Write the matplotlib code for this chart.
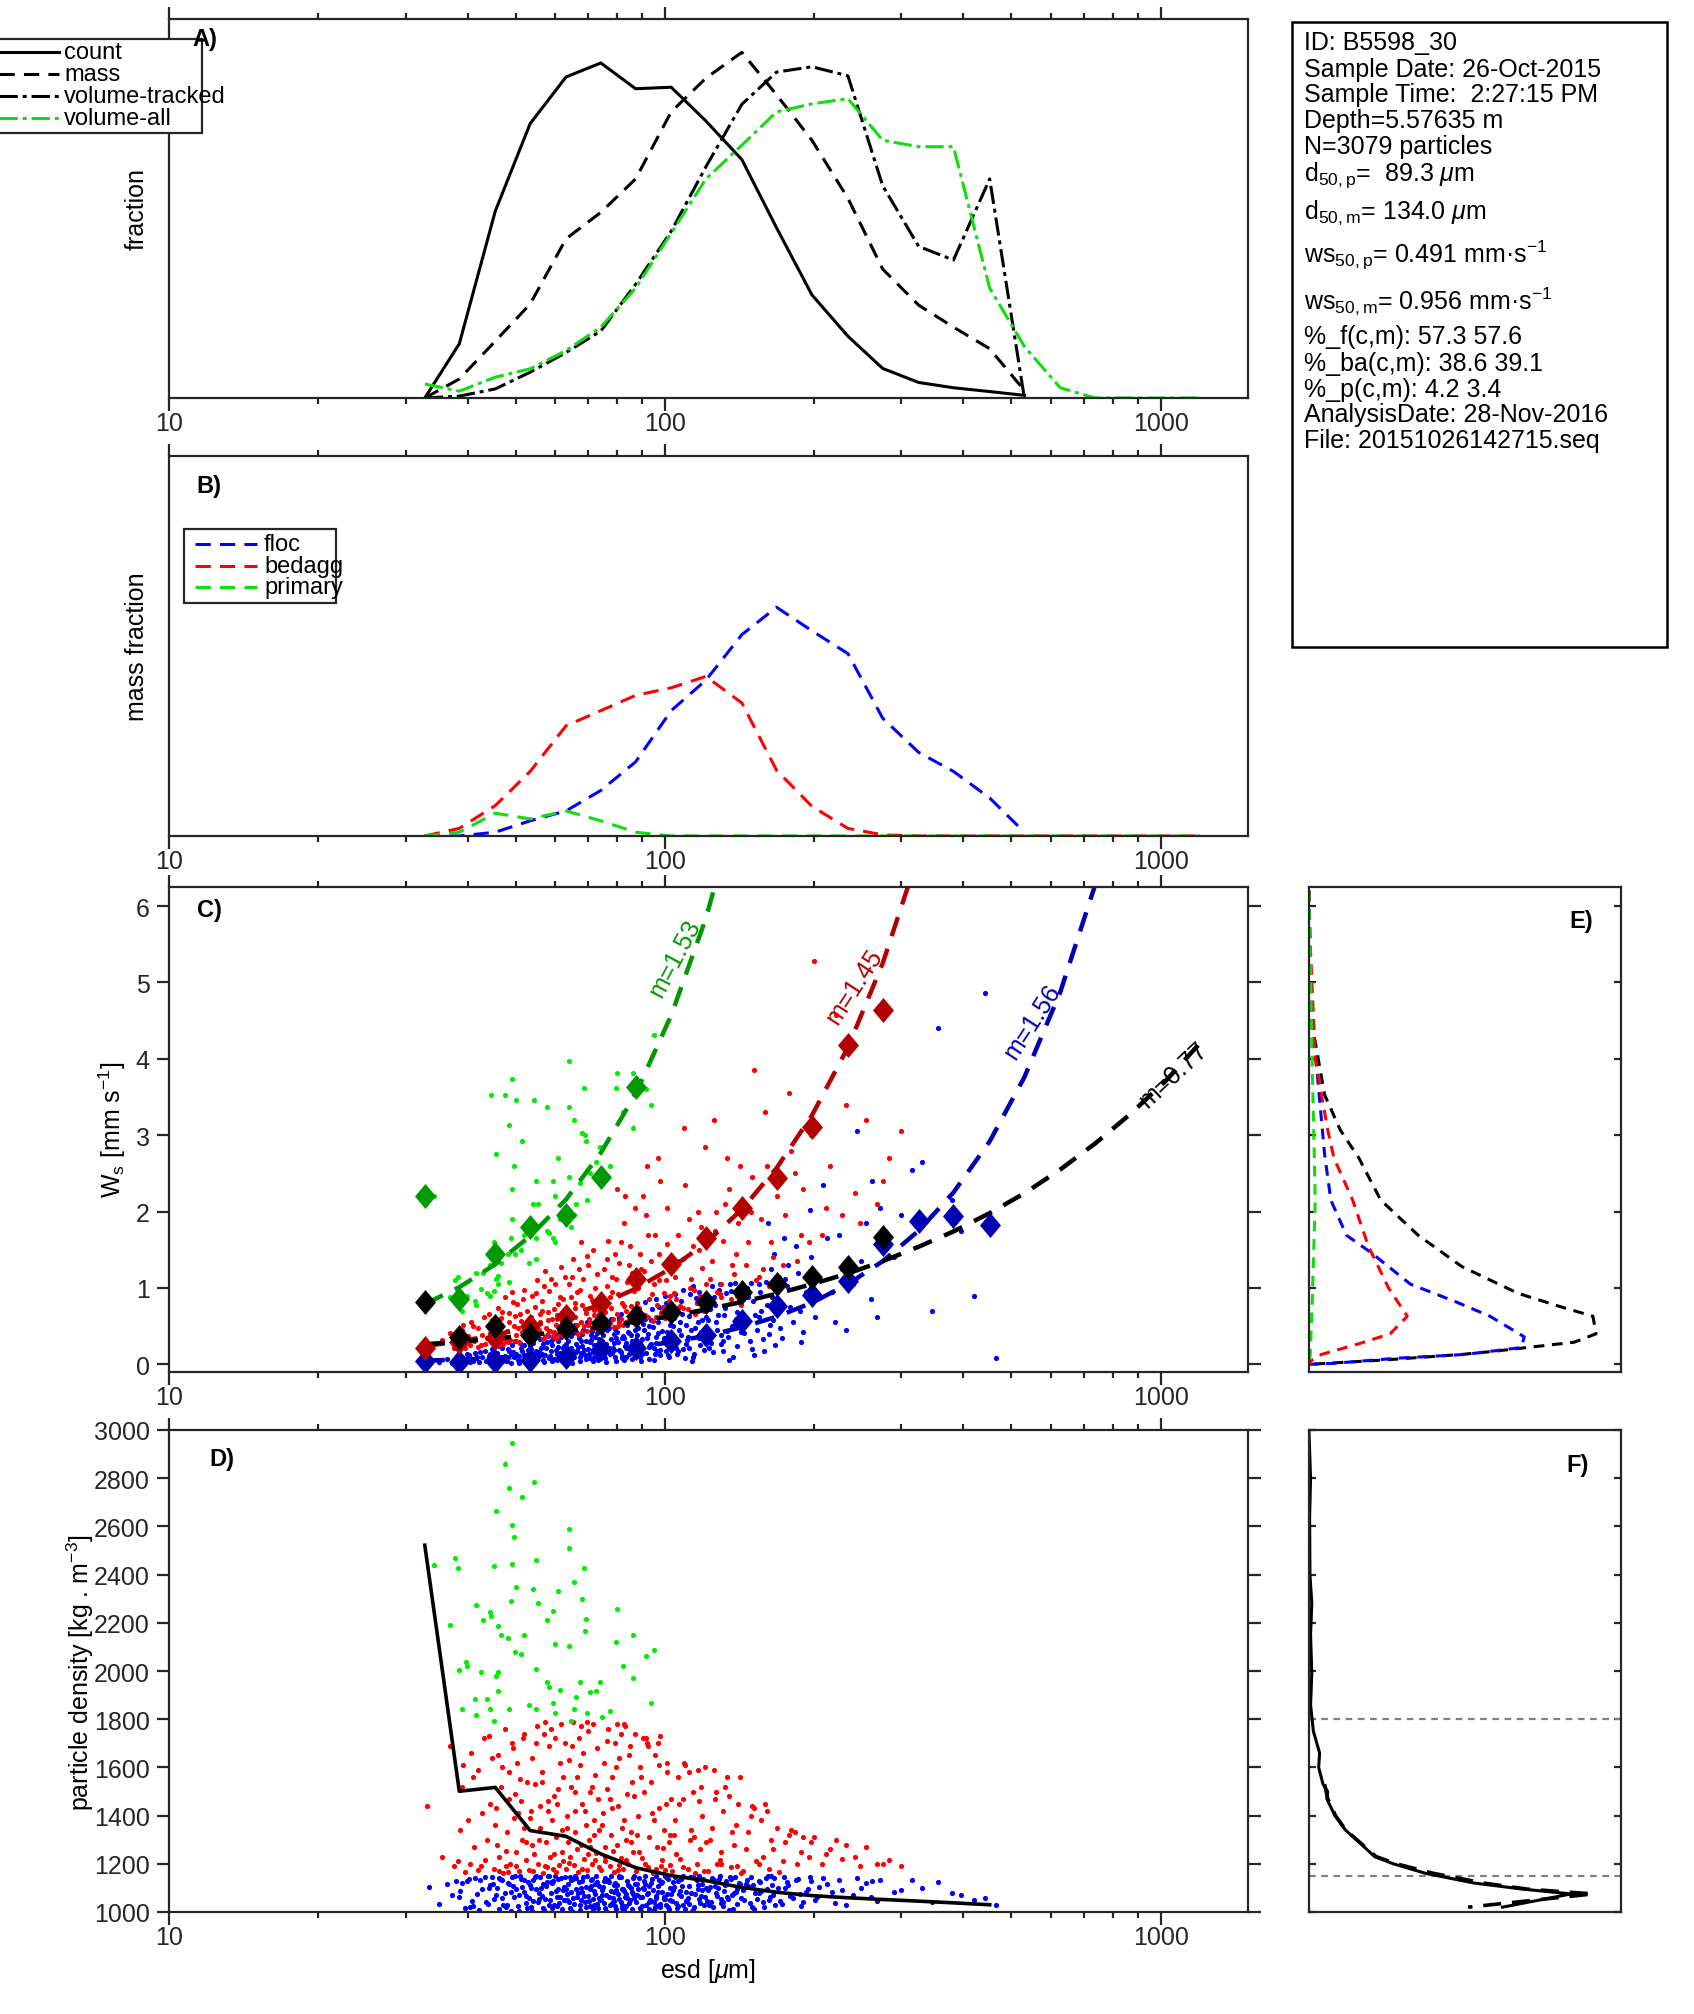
import matplotlib
matplotlib.use('Agg')
import matplotlib.pyplot as plt
from matplotlib.ticker import NullFormatter
from matplotlib.patches import Rectangle
from matplotlib.lines import Line2D

plt.rcParams['font.family'] = ['Liberation Sans', 'DejaVu Sans']
plt.rcParams['mathtext.fontset'] = 'custom'
plt.rcParams['mathtext.rm'] = 'Liberation Sans'
plt.rcParams['mathtext.it'] = 'Liberation Sans:italic'
plt.rcParams['mathtext.bf'] = 'Liberation Sans:bold'

# ---------------- data ----------------
# size-bin centres [um]
esd_bins = [32.8, 38.5, 45.5, 53.5, 63.2, 74.3, 87.3, 103, 121, 143, 168, 198,
            234, 275, 325, 382, 452, 531, 627, 737, 866, 1023, 1202]

# A) size distributions (relative fraction)
count_frac = [0, 0.143, 0.493, 0.724, 0.847, 0.884, 0.816, 0.820, 0.731, 0.629,
              0.449, 0.272, 0.163, 0.078, 0.041, 0.027, 0.017, 0.007]
mass_frac = [0, 0.05, 0.15, 0.248, 0.42, 0.49, 0.578, 0.755, 0.844, 0.912,
             0.80, 0.68, 0.527, 0.34, 0.245, 0.187, 0.13, 0.02]
voltrack_frac = [0, 0.005, 0.024, 0.068, 0.12, 0.177, 0.30, 0.44, 0.61, 0.775,
                 0.86, 0.874, 0.85, 0.56, 0.40, 0.364, 0.578, 0]
volall_frac = [0.037, 0.018, 0.055, 0.077, 0.125, 0.187, 0.29, 0.435, 0.578, 0.667,
               0.755, 0.776, 0.79, 0.68, 0.663, 0.663, 0.29, 0.136, 0.027, 0, 0, 0, 0]
legend_a = ['count', 'mass', 'volume-tracked', 'volume-all']

# B) mass fraction per class
floc_mass = [0, 0, 0.01, 0.04, 0.066, 0.12, 0.195, 0.33, 0.41, 0.53, 0.602, 0.54,
             0.48, 0.31, 0.22, 0.17, 0.10, 0.01]
bedagg_mass = [0, 0.02, 0.08, 0.17, 0.29, 0.33, 0.37, 0.39, 0.42, 0.35, 0.173, 0.078,
               0.02, 0.003, 0, 0, 0, 0, 0, 0, 0, 0, 0]
primary_mass = [0, 0.01, 0.06, 0.045, 0.066, 0.04, 0.01, 0, 0, 0, 0, 0, 0, 0, 0, 0,
                0, 0, 0, 0, 0, 0, 0]
legend_b = ['floc', 'bedagg', 'primary']

# C) bin-mean settling velocity [mm/s]
ws_mean_primary = [2.2, 0.85, 1.45, 1.8, 1.95, 2.45, 3.63]
ws_mean_bedagg = [0.22, 0.29, 0.34, 0.5, 0.63, 0.8, 1.12, 1.32, 1.66, 2.05, 2.44, 3.11, 4.18, 4.64]
ws_mean_all = [0.82, 0.36, 0.5, 0.38, 0.47, 0.54, 0.63, 0.69, 0.82, 0.95, 1.05, 1.15, 1.28, 1.67]
ws_mean_floc = [0.04, 0.03, 0.04, 0.06, 0.1, 0.2, 0.22, 0.31, 0.38, 0.57, 0.77, 0.91, 1.09,
                1.58, 1.88, 1.94, 1.83]

# C) power-law fit curves read at the bin centres
fit_primary = [0.79, 1.01, 1.31, 1.68, 2.16, 2.77, 3.54, 4.57, 5.84, 7.54]
fit_bedagg = [0.24, 0.30, 0.386, 0.489, 0.622, 0.787, 0.99, 1.26, 1.59, 2.03, 2.57,
              3.26, 4.15, 5.25, 6.68]
fit_floc = [0.049, 0.063, 0.081, 0.105, 0.136, 0.175, 0.225, 0.291, 0.374, 0.485,
            0.624, 0.806, 1.05, 1.35, 1.75, 2.25, 2.92, 3.76, 4.87, 6.27]
fit_all = [0.263, 0.297, 0.338, 0.383, 0.435, 0.493, 0.558, 0.634, 0.718, 0.817, 0.924,
           1.05, 1.19, 1.35, 1.54, 1.74, 1.98, 2.24, 2.55, 2.89, 3.27, 3.71, 4.21]
fit_labels = ['m=1.53', 'm=1.45', 'm=1.56', 'm=0.77']

# D) bin-mean particle density [kg/m3]
rho_mean_all = [2522, 1501, 1517, 1338, 1314, 1241, 1184, 1151, 1130, 1102, 1082, 1068,
                1059, 1052, 1045, 1038, 1030]

# particles: (esd [um], ws [mm/s], density [kg/m3])
floc_particles = [
    (33.5, 0.05, 1105), (35.1, 0.03, 1032), (36.4, 0.07, 1118), (37.2, 0.02, 1071), (37.9, 0.06, 1129),
    (38.4, 0.04, 1062), (38.9, 0.09, 1121), (39.6, 0.02, 1015), (40.2, 0.12, 1138), (40.8, 0.06, 1047),
    (41.5, 0.15, 1143), (42.1, 0.03, 1008), (42.8, 0.10, 1096), (43.3, 0.18, 1147), (43.9, 0.07, 1035),
    (44.5, 0.13, 1112), (41.0, 0.05, 1024),
    (38.7, 0.08, 1089), (39.9, 0.14, 1130), (40.5, 0.03, 1019), (41.8, 0.10, 1076), (42.4, 0.16, 1132),
    (43.6, 0.04, 1041), (44.2, 0.11, 1099), (44.9, 0.20, 1145),
    (45.3, 0.08, 1052), (45.9, 0.15, 1101), (46.4, 0.03, 1012), (46.9, 0.21, 1134), (47.5, 0.11, 1078),
    (48.0, 0.05, 1028), (48.6, 0.18, 1117), (49.1, 0.26, 1146), (49.7, 0.09, 1061), (50.2, 0.14, 1094),
    (50.8, 0.02, 1006), (51.3, 0.22, 1139), (51.9, 0.12, 1083), (52.4, 0.07, 1039), (52.9, 0.19, 1124),
    (46.2, 0.24, 1142), (47.8, 0.04, 1019), (49.4, 0.16, 1108), (51.0, 0.28, 1149), (52.6, 0.10, 1067),
    (45.6, 0.12, 1072), (46.6, 0.26, 1137), (47.2, 0.06, 1031), (48.3, 0.20, 1120), (48.9, 0.13, 1085),
    (49.9, 0.30, 1148), (50.5, 0.06, 1026), (51.6, 0.17, 1104), (52.1, 0.25, 1133), (52.8, 0.04, 1015),
    (45.1, 0.19, 1118), (47.0, 0.09, 1057), (49.0, 0.02, 1003), (50.9, 0.11, 1069),
    (53.3, 0.12, 1058), (53.8, 0.05, 1022), (54.3, 0.28, 1131), (54.9, 0.18, 1094), (55.4, 0.09, 1041),
    (55.9, 0.33, 1144), (56.5, 0.14, 1066), (57.0, 0.03, 1009), (57.6, 0.22, 1108), (58.1, 0.37, 1148),
    (58.7, 0.11, 1049), (59.2, 0.26, 1121), (59.8, 0.07, 1027), (60.3, 0.19, 1087), (60.9, 0.31, 1137),
    (61.5, 0.15, 1063), (62.1, 0.04, 1012), (62.7, 0.24, 1103), (53.6, 0.20, 1099), (54.6, 0.35, 1146),
    (55.7, 0.13, 1055), (56.8, 0.06, 1018), (57.9, 0.29, 1126), (59.0, 0.17, 1078), (60.1, 0.40, 1150),
    (61.2, 0.10, 1038), (62.3, 0.21, 1092), (58.4, 0.08, 1031),
    (53.5, 0.24, 1112), (54.1, 0.09, 1046), (55.1, 0.38, 1149), (55.8, 0.16, 1079), (56.7, 0.27, 1118),
    (57.3, 0.12, 1056), (58.3, 0.44, 1150), (59.1, 0.05, 1016), (59.6, 0.33, 1130), (60.6, 0.14, 1061),
    (61.0, 0.23, 1097), (61.8, 0.36, 1141), (62.5, 0.12, 1050), (54.0, 0.02, 1004), (56.2, 0.21, 1100),
    (58.9, 0.30, 1124), (60.7, 0.06, 1024), (62.9, 0.42, 1147),
    (63.4, 0.14, 1051), (63.8, 0.31, 1115), (64.3, 0.06, 1016), (64.7, 0.22, 1083), (65.2, 0.41, 1138),
    (65.6, 0.10, 1034), (66.1, 0.27, 1097), (66.6, 0.18, 1062), (67.0, 0.35, 1124), (67.5, 0.04, 1008),
    (68.0, 0.24, 1081), (68.5, 0.45, 1146), (69.0, 0.12, 1040), (69.5, 0.30, 1104), (70.0, 0.20, 1068),
    (70.5, 0.08, 1025), (71.0, 0.38, 1131), (71.5, 0.16, 1052), (72.0, 0.26, 1086), (72.6, 0.48, 1149),
    (73.1, 0.11, 1035), (73.7, 0.33, 1108), (63.6, 0.21, 1076), (64.9, 0.02, 1004), (66.3, 0.43, 1141),
    (67.7, 0.15, 1049), (69.2, 0.07, 1019), (70.7, 0.29, 1094), (72.2, 0.36, 1117), (73.5, 0.19, 1058),
    (65.9, 0.47, 1150), (71.8, 0.09, 1027),
    (63.3, 0.27, 1095), (64.1, 0.12, 1043), (64.6, 0.37, 1131), (65.4, 0.17, 1060), (66.0, 0.52, 1147),
    (66.9, 0.23, 1079), (67.3, 0.09, 1030), (68.2, 0.40, 1128), (68.8, 0.19, 1067), (69.7, 0.55, 1150),
    (70.3, 0.13, 1045), (70.9, 0.32, 1107), (71.7, 0.05, 1012), (72.4, 0.22, 1073), (73.0, 0.41, 1126),
    (73.9, 0.14, 1048), (64.4, 0.46, 1144), (67.9, 0.31, 1101), (71.3, 0.44, 1135), (73.3, 0.06, 1017),
    (74.5, 0.18, 1048), (75.0, 0.39, 1104), (75.6, 0.08, 1018), (76.2, 0.27, 1072), (76.8, 0.52, 1133),
    (77.4, 0.13, 1031), (78.0, 0.33, 1087), (78.6, 0.22, 1057), (79.2, 0.46, 1119), (79.8, 0.05, 1011),
    (80.4, 0.29, 1076), (81.0, 0.58, 1146), (81.7, 0.16, 1040), (82.3, 0.37, 1096), (83.0, 0.24, 1063),
    (83.6, 0.10, 1024), (84.3, 0.43, 1112), (85.0, 0.20, 1051), (85.7, 0.31, 1081), (86.4, 0.55, 1141),
    (74.8, 0.26, 1069), (76.0, 0.03, 1005), (77.2, 0.48, 1125), (78.4, 0.15, 1038), (79.6, 0.35, 1092),
    (80.9, 0.62, 1149), (82.1, 0.11, 1027), (83.4, 0.28, 1074), (84.7, 0.41, 1106), (86.0, 0.07, 1014),
    (75.3, 0.50, 1130), (78.9, 0.19, 1046), (82.6, 0.34, 1088), (86.8, 0.23, 1058),
    (74.6, 0.31, 1093), (75.4, 0.12, 1036), (76.5, 0.45, 1127), (77.0, 0.22, 1064), (77.8, 0.60, 1150),
    (78.8, 0.28, 1081), (79.4, 0.10, 1023), (80.1, 0.42, 1113), (80.8, 0.19, 1053), (81.4, 0.66, 1147),
    (82.0, 0.34, 1094), (82.8, 0.06, 1010), (83.7, 0.51, 1129), (84.5, 0.14, 1039), (85.3, 0.38, 1100),
    (86.1, 0.27, 1073), (86.6, 0.70, 1149), (75.9, 0.57, 1140), (79.0, 0.40, 1110), (81.9, 0.08, 1016),
    (84.0, 0.21, 1059), (86.9, 0.45, 1117),
    (87.6, 0.21, 1043), (88.4, 0.47, 1097), (89.2, 0.09, 1015), (90.0, 0.33, 1064), (90.8, 0.64, 1127),
    (91.6, 0.15, 1027), (92.5, 0.40, 1079), (93.3, 0.26, 1049), (94.2, 0.72, 1138), (95.1, 0.06, 1009),
    (96.0, 0.36, 1068), (96.9, 0.55, 1109), (97.8, 0.19, 1033), (98.7, 0.44, 1085), (99.7, 0.29, 1054),
    (100.6, 0.80, 1146), (101.6, 0.12, 1020), (102.6, 0.51, 1098), (88.0, 0.38, 1071), (89.6, 0.04, 1005),
    (91.2, 0.60, 1115), (92.9, 0.23, 1041), (94.6, 0.49, 1092), (96.4, 0.17, 1026), (98.2, 0.67, 1121),
    (100.1, 0.31, 1052), (102.0, 0.10, 1013), (90.4, 0.53, 1101), (93.8, 0.27, 1046), (97.3, 0.75, 1133),
    (101.1, 0.42, 1075), (95.5, 0.14, 1022),
    (87.9, 0.56, 1118), (88.9, 0.28, 1061), (89.9, 0.13, 1024), (90.6, 0.45, 1096), (91.4, 0.81, 1148),
    (92.2, 0.35, 1076), (93.0, 0.07, 1011), (93.9, 0.58, 1120), (94.9, 0.22, 1043), (95.8, 0.86, 1150),
    (96.7, 0.41, 1082), (97.6, 0.12, 1019), (98.5, 0.62, 1125), (99.4, 0.34, 1063), (100.4, 0.18, 1031),
    (101.4, 0.70, 1135), (102.3, 0.26, 1050), (88.6, 0.69, 1140), (92.7, 0.50, 1106), (96.1, 0.28, 1057),
    (99.9, 0.90, 1150), (102.9, 0.38, 1073),
    (103.4, 0.28, 1046), (104.5, 0.61, 1103), (105.6, 0.13, 1018), (106.7, 0.45, 1075), (107.9, 0.83, 1136),
    (109.0, 0.20, 1029), (110.2, 0.52, 1084), (111.4, 0.36, 1058), (112.6, 0.92, 1144), (113.8, 0.09, 1010),
    (115.1, 0.48, 1073), (116.4, 0.70, 1112), (117.7, 0.25, 1037), (119.0, 0.58, 1091), (120.3, 0.40, 1062),
    (104.0, 0.77, 1125), (106.2, 0.17, 1024), (108.5, 0.66, 1106), (110.8, 0.32, 1049), (113.2, 0.05, 1006),
    (115.7, 0.87, 1139), (118.3, 0.43, 1066), (120.8, 0.62, 1098), (107.3, 0.55, 1088), (112.0, 0.22, 1033),
    (117.0, 0.95, 1148),
    (103.9, 0.50, 1092), (105.1, 0.21, 1036), (106.4, 0.74, 1128), (107.6, 0.38, 1068), (108.9, 0.98, 1150),
    (110.5, 0.27, 1045), (111.7, 0.63, 1108), (112.9, 0.45, 1080), (114.4, 0.14, 1021), (115.9, 0.80, 1131),
    (117.3, 0.34, 1055), (118.8, 0.71, 1118), (120.1, 0.19, 1029), (105.0, 0.92, 1145), (109.6, 0.08, 1012),
    (114.0, 1.02, 1147), (116.9, 0.56, 1094), (119.6, 0.88, 1137),
    (121.8, 0.34, 1047), (123.4, 0.72, 1102), (125.0, 0.16, 1020), (126.6, 0.55, 1077), (128.3, 0.98, 1135),
    (130.0, 0.27, 1036), (131.7, 0.64, 1089), (133.5, 0.44, 1061), (135.3, 1.05, 1146), (137.1, 0.10, 1012),
    (139.0, 0.59, 1081), (140.9, 0.85, 1120), (122.6, 0.22, 1028), (126.0, 0.78, 1108), (129.5, 0.38, 1054),
    (133.0, 0.93, 1129), (136.5, 0.50, 1070), (140.0, 0.68, 1095), (124.2, 1.02, 1142), (131.0, 0.30, 1042),
    (122.3, 0.58, 1093), (123.9, 0.28, 1041), (125.6, 0.88, 1133), (127.3, 0.45, 1067), (129.0, 1.05, 1149),
    (130.8, 0.18, 1026), (132.4, 0.74, 1112), (134.2, 0.36, 1052), (136.0, 0.96, 1138), (137.8, 0.52, 1078),
    (139.7, 0.24, 1034), (141.6, 0.80, 1116), (127.9, 0.64, 1100), (134.9, 0.06, 1008), (138.4, 1.07, 1146),
    (142.3, 0.42, 1060),
    (144.5, 0.41, 1051), (147.0, 0.88, 1106), (149.6, 0.20, 1022), (152.2, 0.65, 1079), (154.9, 1.05, 1128),
    (157.6, 0.33, 1040), (160.4, 0.78, 1094), (163.2, 0.52, 1064), (166.1, 1.45, 1142), (145.8, 0.97, 1118),
    (151.0, 0.12, 1013), (156.2, 0.70, 1087), (161.8, 1.85, 1149), (165.0, 0.58, 1071),
    (143.8, 0.62, 1090), (146.2, 1.00, 1134), (148.4, 0.30, 1038), (150.4, 0.83, 1113), (153.5, 0.45, 1056),
    (155.6, 0.95, 1126), (158.6, 0.18, 1021), (159.9, 1.08, 1140), (162.5, 0.40, 1049), (164.3, 0.88, 1110),
    (167.0, 0.26, 1031), (148.9, 1.06, 1145), (155.0, 0.62, 1077), (163.9, 1.25, 1148),
    (170.5, 0.48, 1046), (174.8, 1.12, 1098), (179.1, 0.75, 1068), (183.6, 1.55, 1131), (188.2, 0.29, 1024),
    (192.9, 0.95, 1085), (196.5, 2.02, 1147), (177.0, 1.30, 1112),
    (169.5, 0.80, 1099), (172.5, 0.35, 1035), (176.0, 1.02, 1125), (181.0, 0.55, 1060), (185.5, 1.20, 1136),
    (190.0, 0.42, 1043), (194.5, 0.90, 1097), (173.8, 1.65, 1146), (187.0, 0.70, 1075), (197.5, 1.40, 1128),
    (203, 0.85, 1063), (212, 1.65, 1117), (220, 0.55, 1038), (228, 1.25, 1091), (208, 2.35, 1143),
    (200.5, 0.62, 1051), (205, 1.10, 1102), (217, 0.95, 1083), (224, 1.70, 1132), (232, 0.45, 1030),
    (240, 1.05, 1072), (255, 1.85, 1120), (268, 0.62, 1044), (244, 3.05, 1140), (262, 2.40, 1128),
    (249, 1.35, 1099), (260, 0.85, 1062), (272, 2.05, 1134),
    (290, 1.40, 1085), (315, 2.55, 1131), (300, 1.95, 1092), (330, 2.65, 1100),
    (345, 0.70, 1040), (355, 4.40, 1125), (380, 2.15, 1080), (395, 1.75, 1070), (420, 0.90, 1050),
    (443, 4.86, 1060), (465, 0.08, 1030),
]

bedagg_particles = [
    (33.2, 0.24, 1440), (35.5, 0.32, 1230), (36.8, 0.41, 1690), (37.6, 0.22, 1190),
    (38.3, 0.28, 1210), (38.9, 0.45, 1520), (39.5, 0.21, 1165), (40.1, 0.37, 1380), (40.7, 0.55, 1660),
    (41.3, 0.30, 1270), (41.9, 0.48, 1590), (42.5, 0.26, 1190), (43.1, 0.62, 1720), (43.7, 0.34, 1300),
    (44.3, 0.41, 1450), (39.2, 0.52, 1610), (42.0, 0.23, 1175), (44.8, 0.58, 1640),
    (38.6, 0.35, 1340), (40.4, 0.25, 1200), (41.1, 0.50, 1560), (42.8, 0.39, 1410), (43.4, 0.27, 1215),
    (44.1, 0.66, 1730),
    (45.2, 0.30, 1180), (45.6, 0.52, 1430), (46.0, 0.74, 1650), (46.4, 0.35, 1230), (46.8, 0.61, 1520),
    (47.2, 0.27, 1160), (47.6, 0.88, 1760), (48.0, 0.44, 1330), (48.4, 0.67, 1580), (48.8, 0.32, 1200),
    (49.2, 0.95, 1700), (49.6, 0.50, 1390), (50.0, 0.38, 1250), (50.4, 0.79, 1620), (50.8, 0.29, 1170),
    (51.2, 0.57, 1460), (51.6, 0.42, 1300), (52.0, 0.98, 1740), (52.4, 0.34, 1215), (52.8, 0.70, 1540),
    (45.9, 0.40, 1280), (47.9, 0.31, 1190), (49.9, 0.63, 1490), (51.9, 0.46, 1350),
    (45.4, 0.46, 1360), (46.2, 0.25, 1170), (47.0, 0.68, 1600), (47.8, 0.36, 1255), (48.6, 0.55, 1470),
    (49.4, 0.81, 1680), (50.2, 0.31, 1190), (51.0, 0.66, 1550), (51.8, 0.86, 1720), (52.6, 0.40, 1290),
    (48.2, 0.29, 1165), (50.6, 0.48, 1410),
    (53.2, 0.35, 1175), (53.6, 0.62, 1420), (54.0, 0.90, 1640), (54.4, 0.41, 1240), (54.8, 0.75, 1530),
    (55.2, 1.10, 1770), (55.6, 0.38, 1200), (56.0, 0.55, 1350), (56.4, 0.83, 1580), (56.8, 0.33, 1160),
    (57.2, 1.22, 1790), (57.6, 0.48, 1290), (58.0, 0.68, 1460), (58.4, 0.96, 1690), (58.8, 0.44, 1230),
    (59.2, 0.59, 1380), (59.6, 0.37, 1180), (60.0, 1.05, 1720), (60.4, 0.52, 1310), (60.8, 0.79, 1510),
    (61.2, 0.40, 1195), (61.6, 1.28, 1780), (62.0, 0.57, 1340), (62.4, 0.86, 1560), (53.9, 0.47, 1280),
    (55.9, 0.66, 1440), (57.9, 0.39, 1185), (59.9, 0.73, 1480), (61.9, 0.45, 1250), (62.8, 1.15, 1700),
    (53.4, 0.54, 1390), (54.2, 0.31, 1170), (55.0, 0.93, 1700), (55.8, 0.45, 1300), (56.6, 0.70, 1540),
    (57.4, 0.36, 1190), (58.2, 0.58, 1420), (59.0, 1.12, 1760), (59.8, 0.42, 1240), (60.6, 0.64, 1450),
    (61.4, 0.88, 1620), (62.2, 0.39, 1210), (57.0, 1.02, 1740), (60.2, 0.34, 1165),
    (63.2, 0.42, 1180), (63.6, 0.70, 1400), (64.0, 1.05, 1630), (64.4, 0.48, 1230), (64.8, 0.88, 1520),
    (65.2, 1.38, 1790), (65.6, 0.45, 1195), (66.0, 0.62, 1330), (66.4, 0.95, 1560), (66.8, 0.40, 1165),
    (67.2, 1.25, 1720), (67.6, 0.56, 1280), (68.0, 0.78, 1450), (68.4, 1.12, 1660), (68.8, 0.50, 1220),
    (69.2, 0.67, 1360), (69.6, 0.44, 1175), (70.0, 1.30, 1750), (70.4, 0.59, 1300), (70.8, 0.90, 1500),
    (71.2, 0.47, 1200), (71.6, 1.50, 1780), (72.0, 0.64, 1320), (72.4, 1.00, 1570), (72.8, 0.53, 1245),
    (73.2, 0.82, 1470), (73.6, 0.46, 1185), (63.9, 0.55, 1290), (65.9, 0.74, 1420), (67.9, 1.60, 1770),
    (69.9, 0.52, 1240), (71.9, 0.71, 1380),
    (63.4, 0.62, 1350), (64.2, 0.44, 1205), (65.0, 1.15, 1690), (65.8, 0.80, 1500), (66.6, 0.52, 1260),
    (67.4, 0.97, 1610), (68.2, 0.43, 1180), (69.0, 0.72, 1420), (69.8, 1.42, 1790), (70.6, 0.55, 1270),
    (71.4, 0.84, 1520), (72.2, 0.48, 1215), (73.0, 1.18, 1680), (73.8, 0.66, 1340),
    (74.4, 0.50, 1175), (74.9, 0.85, 1410), (75.4, 1.25, 1620), (75.9, 0.58, 1230), (76.4, 1.02, 1510),
    (76.9, 1.62, 1760), (77.4, 0.54, 1190), (77.9, 0.74, 1320), (78.4, 1.15, 1560), (78.9, 0.49, 1165),
    (79.4, 1.45, 1700), (79.9, 0.66, 1280), (80.4, 0.92, 1440), (80.9, 1.33, 1640), (81.4, 0.60, 1225),
    (81.9, 0.80, 1350), (82.4, 0.52, 1180), (82.9, 1.85, 1780), (83.4, 0.70, 1300), (83.9, 1.08, 1490),
    (84.4, 0.57, 1200), (84.9, 1.55, 1690), (85.4, 0.77, 1330), (85.9, 1.20, 1540), (86.4, 0.63, 1250),
    (86.9, 2.05, 1740), (75.7, 0.68, 1270), (78.2, 0.95, 1430), (80.7, 0.56, 1195), (83.2, 2.20, 1770),
    (74.7, 0.72, 1360), (75.6, 0.52, 1210), (76.6, 1.38, 1710), (77.6, 0.88, 1470), (78.6, 0.60, 1255),
    (79.6, 1.12, 1600), (80.6, 0.50, 1175), (81.6, 1.60, 1740), (82.6, 0.76, 1380), (83.6, 0.55, 1215),
    (84.6, 1.30, 1650), (85.6, 0.64, 1290), (86.6, 0.96, 1480), (80.0, 2.30, 1780),
    (87.5, 0.58, 1170), (88.3, 1.00, 1400), (89.1, 1.45, 1600), (89.9, 0.66, 1225), (90.7, 1.22, 1500),
    (91.5, 1.95, 1720), (92.3, 0.62, 1185), (93.1, 0.86, 1310), (93.9, 1.35, 1540), (94.7, 0.57, 1160),
    (95.5, 1.70, 1650), (96.3, 0.78, 1270), (97.1, 1.10, 1430), (97.9, 2.40, 1730), (98.7, 0.70, 1215),
    (99.5, 0.94, 1340), (100.3, 0.61, 1175), (101.1, 1.58, 1580), (101.9, 0.83, 1290), (102.7, 1.25, 1470),
    (88.7, 0.74, 1250), (91.9, 2.60, 1700), (95.1, 1.05, 1380), (98.3, 0.67, 1190), (100.9, 2.05, 1620),
    (102.3, 0.90, 1320),
    (88.0, 0.80, 1320), (89.5, 1.25, 1560), (91.0, 0.64, 1200), (92.6, 1.70, 1690), (94.2, 0.92, 1410),
    (95.8, 0.62, 1180), (97.4, 1.45, 1610), (99.0, 0.75, 1265), (100.6, 1.10, 1450), (102.2, 0.66, 1195),
    (90.3, 2.20, 1720), (96.8, 2.70, 1700),
    (103.5, 0.68, 1170), (104.8, 1.15, 1380), (106.1, 1.70, 1560), (107.4, 0.77, 1220), (108.7, 1.38, 1470),
    (110.0, 2.35, 1610), (111.3, 0.72, 1180), (112.6, 1.00, 1300), (113.9, 1.55, 1500), (115.2, 0.66, 1160),
    (116.5, 2.00, 1590), (117.8, 0.90, 1260), (119.1, 1.26, 1400), (120.4, 2.85, 1600), (105.5, 0.85, 1240),
    (109.5, 3.10, 1620), (113.0, 1.12, 1340), (116.0, 0.80, 1200), (118.5, 1.80, 1520), (121.0, 1.05, 1290),
    (104.2, 0.94, 1320), (106.8, 1.35, 1450), (109.0, 0.74, 1185), (111.8, 1.90, 1580), (114.5, 0.98, 1310),
    (117.2, 1.50, 1460), (119.8, 0.70, 1170),
    (122.0, 0.80, 1170), (124.3, 1.35, 1350), (126.6, 2.00, 1500), (128.9, 0.92, 1215), (131.2, 1.62, 1420),
    (133.5, 2.70, 1560), (135.8, 0.86, 1185), (138.1, 1.18, 1280), (140.4, 1.85, 1450), (142.7, 0.78, 1160),
    (125.4, 3.20, 1590), (130.0, 1.05, 1250), (134.6, 2.30, 1480), (139.2, 1.45, 1360), (127.7, 0.95, 1200),
    (123.2, 1.12, 1300), (126.0, 1.75, 1470), (129.6, 0.88, 1200), (132.5, 2.10, 1520), (136.8, 1.30, 1330),
    (140.0, 0.90, 1190), (142.0, 2.60, 1560),
    (144.0, 0.95, 1170), (147.0, 1.60, 1330), (150.0, 2.45, 1440), (153.0, 1.10, 1210), (156.0, 1.90, 1380),
    (159.0, 3.30, 1450), (162.0, 1.02, 1180), (165.0, 1.40, 1260), (151.5, 3.85, 1430), (157.5, 1.25, 1230),
    (146.0, 1.30, 1260), (149.0, 2.00, 1400), (154.5, 1.15, 1200), (160.5, 2.60, 1420), (163.5, 1.60, 1300),
    (170.0, 1.15, 1165), (175.0, 1.95, 1290), (180.0, 2.80, 1340), (185.0, 1.35, 1200), (190.0, 2.30, 1310),
    (195.0, 1.60, 1230), (178.0, 3.55, 1320), (168.5, 2.20, 1350), (173.0, 1.30, 1210), (183.0, 2.50, 1330),
    (188.0, 1.70, 1250), (197.0, 3.00, 1290),
    (200.0, 5.28, 1310), (207.0, 1.70, 1200), (215.0, 2.60, 1260), (221.0, 4.57, 1300), (228.0, 1.95, 1220),
    (211.0, 2.05, 1240), (232.0, 3.40, 1280),
    (242.0, 2.25, 1230), (255.0, 3.20, 1270), (268.0, 2.10, 1200), (248.0, 1.85, 1190), (276.0, 2.40, 1200),
    (283.0, 2.70, 1215), (300.0, 3.05, 1190),
]

primary_particles = [
    (49.2, 3.74, 2948), (47.5, 3.53, 2858), (48.5, 3.14, 2761), (54.4, 3.46, 2785), (51.6, 2.93, 2720),
    (45.6, 2.75, 2663), (49.2, 2.29, 2607), (49.6, 2.60, 2558), (64.1, 3.97, 2590), (64.1, 3.37, 2509),
    (37.7, 1.10, 2468), (38.2, 1.15, 2428), (45.2, 1.60, 2436), (55.0, 2.40, 2460), (49.2, 1.90, 2444),
    (68.6, 3.62, 2428), (54.1, 2.10, 2341), (60.9, 2.70, 2333), (65.6, 3.20, 2371), (68.2, 3.03, 2298),
    (55.5, 2.10, 2281), (49.0, 1.65, 2289), (80.2, 3.81, 2257), (41.7, 1.20, 2273), (69.4, 2.93, 2216),
    (42.9, 1.20, 2213), (44.4, 1.30, 2244), (36.8, 0.88, 2192), (46.1, 1.35, 2187), (46.7, 1.33, 2151),
    (48.3, 1.45, 2138), (52.1, 1.70, 2151), (59.5, 2.40, 2249), (60.1, 2.20, 2111), (64.1, 2.45, 2102),
    (69.0, 3.00, 2167), (86.2, 3.81, 2151), (95.1, 4.31, 2086), (91.5, 3.60, 2062), (38.5, 0.82, 2005),
    (39.7, 0.87, 2037), (39.9, 0.90, 2021), (42.6, 0.99, 1997), (45.6, 1.12, 1980), (46.0, 1.16, 1997),
    (49.8, 1.45, 2078), (51.2, 1.50, 2070), (55.0, 1.66, 2008), (57.9, 1.75, 1956), (58.5, 1.72, 1932),
    (61.5, 1.90, 1923), (66.1, 2.10, 1891), (67.3, 2.37, 1956), (70.7, 2.50, 1911), (72.7, 2.65, 1915),
    (73.9, 2.85, 1956), (82.3, 3.30, 2021), (86.2, 3.10, 1972), (93.9, 3.39, 1867), (41.4, 0.83, 1883),
    (43.8, 0.93, 1883), (44.4, 0.90, 1842), (46.0, 1.05, 1915), (39.0, 0.70, 1842), (41.7, 0.78, 1818),
    (48.5, 1.08, 1842), (53.3, 1.33, 1858), (55.0, 1.38, 1842), (59.5, 1.65, 1867), (60.1, 1.60, 1826),
    (64.6, 1.80, 1793), (65.6, 1.95, 1842), (69.8, 2.15, 1826), (74.6, 2.45, 1810), (77.4, 2.60, 1834),
    (45.2, 0.96, 1793), (34.3, 2.20, 2440), (44.7, 3.53, 2230), (50.1, 3.46, 2350), (57.8, 3.37, 2210),
    (79.6, 3.62, 2120),
]

# E) settling-velocity profiles (ws [mm/s], relative fraction)
E_ws_all = [6.2, 5.2, 4.45, 3.53, 3.07, 2.70, 2.15, 1.69, 1.28, 0.93, 0.75, 0.63, 0.40, 0.29, 0.17, 0.13, 0.06, 0.0]
E_fr_all = [0.0, 0.003, 0.01, 0.05, 0.10, 0.16, 0.23, 0.35, 0.49, 0.67, 0.81, 0.91, 0.92, 0.85, 0.59, 0.49, 0.25, 0.0]
E_ws_floc = [6.2, 5.23, 4.45, 2.75, 2.15, 1.69, 1.46, 1.05, 0.82, 0.63, 0.36, 0.22, 0.13, 0.08, 0.014, 0.0]
E_fr_floc = [0.0, 0.004, 0.012, 0.05, 0.07, 0.12, 0.20, 0.325, 0.47, 0.58, 0.69, 0.68, 0.50, 0.28, 0.08, 0.0]
E_ws_bedagg = [6.2, 5.5, 4.0, 3.07, 2.70, 2.15, 1.55, 1.0, 0.63, 0.40, 0.27, 0.13, 0.04, 0.0]
E_fr_bedagg = [0.0, 0.004, 0.02, 0.06, 0.08, 0.14, 0.19, 0.255, 0.315, 0.26, 0.16, 0.04, 0.004, 0.0]
E_ws_primary = [6.2, 4.0, 2.15, 0.77, 0.13, 0.0]
E_fr_primary = [0.0, 0.01, 0.02, 0.01, 0.004, 0.0]

# F) density profiles
F_rho_solid = [2990, 2800, 2640, 2400, 2280, 2150, 1990, 1860, 1750, 1660, 1600, 1530, 1500,
               1470, 1400, 1340, 1290, 1230, 1200, 1160, 1120, 1095, 1075, 1020]
F_fr_solid = [0.0, 0.005, 0.002, 0.003, 0.009, 0.005, 0.009, 0.005, 0.014, 0.034, 0.031, 0.045,
              0.06, 0.057, 0.083, 0.117, 0.16, 0.21, 0.27, 0.375, 0.53, 0.685, 0.84, 0.62]
F_rho_dash = [1530, 1470, 1400, 1340, 1290, 1230, 1200, 1160, 1120, 1095, 1075, 1020]
F_fr_dash = [0.05, 0.06, 0.085, 0.118, 0.162, 0.215, 0.28, 0.40, 0.56, 0.70, 0.91, 0.51]
class_limits = [1800, 1150]

info_lines = ['ID: B5598_30', 'Sample Date: 26-Oct-2015', 'Sample Time:  2:27:15 PM',
              'Depth=5.57635 m', 'N=3079 particles', r'd$_\mathrm{50,p}$=  89.3 $\mu$m',
              r'd$_\mathrm{50,m}$= 134.0 $\mu$m', r'ws$_\mathrm{50,p}$= 0.491 mm·s$^\mathrm{-1}$',
              r'ws$_\mathrm{50,m}$= 0.956 mm·s$^\mathrm{-1}$', '%_f(c,m): 57.3 57.6',
              '%_ba(c,m): 38.6 39.1', '%_p(c,m): 4.2 3.4', 'AnalysisDate: 28-Nov-2016',
              'File: 20151026142715.seq']

# ---------------- figure ----------------
W, H = 1694, 2015
fig = plt.figure(figsize=(W / 100, H / 100), dpi=100)
AXC = '#262626'


def fx(x):
    return x / W


def fy(y):
    return 1 - y / H


def px_axes(l, t, r, b):
    return fig.add_axes([l / W, 1 - b / H, (r - l) / W, (b - t) / H])


def style(ax):
    for s in ax.spines.values():
        s.set_linewidth(1.6)
        s.set_color(AXC)
    ax.tick_params(which='both', width=1.6, color=AXC, labelcolor=AXC, labelsize=18)


def log_x(ax):
    ax.set_xscale('log')
    ax.set_xlim(10, 1500)
    ax.set_xticks([10, 100, 1000])
    ax.set_xticklabels(['10', '100', '1000'])
    ax.xaxis.set_minor_formatter(NullFormatter())
    ax.tick_params(axis='x', which='both', direction='out', top=True, bottom=True, pad=0.5)
    ax.tick_params(axis='x', which='major', length=9)
    ax.tick_params(axis='x', which='minor', length=4.5)


def unz(rows, i):
    return [r[i] for r in rows]


def box_legend(left, top, right, bottom, rows, line_x0, line_x1, text_x, entries):
    # MATLAB-like legend box drawn in figure pixels
    fig.add_artist(Rectangle((fx(left), fy(bottom)), (right - left) / W, (bottom - top) / H,
                             transform=fig.transFigure, facecolor='white', edgecolor=AXC,
                             lw=1.6, zorder=5))
    for yc, (label, col, ls) in zip(rows, entries):
        fig.add_artist(Line2D([fx(line_x0), fx(line_x1)], [fy(yc), fy(yc)], color=col, ls=ls,
                              lw=2.2, transform=fig.transFigure, zorder=6))
        fig.text(fx(text_x), fy(yc), label, fontsize=17, ha='left', va='center', zorder=7)


axA = px_axes(169, 20, 1248, 399)
axB = px_axes(169, 457, 1248, 837)
axC = px_axes(169, 888, 1248, 1373)
axD = px_axes(169, 1431, 1248, 1913)
axE = px_axes(1309, 888, 1621, 1373)
axF = px_axes(1309, 1431, 1621, 1913)

GREEN_L = '#11dd11'
DK_GREEN, DK_RED, DK_BLUE = '#009900', '#b30000', '#0000b3'
dash = (0, (5, 3))
dashdot = (0, (6, 1.6, 1.3, 1.6))
diamond = [(0, 1), (0.84, 0), (0, -1), (-0.84, 0), (0, 1)]

# A
style(axA)
log_x(axA)
axA.plot(esd_bins[:len(count_frac)], count_frac, color='k', lw=2.2)
axA.plot(esd_bins[:len(mass_frac)], mass_frac, color='k', lw=2.2, ls=dash)
axA.plot(esd_bins[:len(voltrack_frac)], voltrack_frac, color='k', lw=2.2, ls=dashdot)
axA.plot(esd_bins, volall_frac, color=GREEN_L, lw=2.2, ls=dashdot)
axA.set_ylim(0, 1.0)
axA.set_yticks([])
box_legend(-10, 40, 202, 134, [53, 75, 97, 119], -5, 59, 64,
           [(legend_a[0], 'k', '-'), (legend_a[1], 'k', dash),
            (legend_a[2], 'k', dashdot), (legend_a[3], GREEN_L, dashdot)])

# B
style(axB)
log_x(axB)
axB.plot(esd_bins[:len(floc_mass)], floc_mass, color='#0000ff', lw=2.2, ls=dash)
axB.plot(esd_bins, bedagg_mass, color='#ff0000', lw=2.2, ls=dash)
axB.plot(esd_bins, primary_mass, color=GREEN_L, lw=2.2, ls=dash)
axB.set_ylim(0, 1.0)
axB.set_yticks([])
box_legend(184, 530, 336, 604, [545, 567, 588], 195, 257, 264,
           [(legend_b[0], '#0000ff', dash), (legend_b[1], '#ff0000', dash),
            (legend_b[2], GREEN_L, dash)])

# C
style(axC)
log_x(axC)
dot = 14
axC.scatter(unz(floc_particles, 0), unz(floc_particles, 1), s=dot, color='#0000ff', lw=0)
axC.scatter(unz(bedagg_particles, 0), unz(bedagg_particles, 1), s=dot, color='#ff0000', lw=0)
axC.scatter(unz(primary_particles, 0), unz(primary_particles, 1), s=dot, color='#00ee00', lw=0)
fit_dash = (0, (4.5, 3))
axC.plot(esd_bins[:len(fit_primary)], fit_primary, color=DK_GREEN, lw=3.2, ls=fit_dash)
axC.plot(esd_bins[:len(fit_bedagg)], fit_bedagg, color=DK_RED, lw=3.2, ls=fit_dash)
axC.plot(esd_bins[:len(fit_floc)], fit_floc, color=DK_BLUE, lw=3.2, ls=fit_dash)
axC.plot(esd_bins, fit_all, color='k', lw=3.2, ls=fit_dash)
for vals, col in [(ws_mean_floc, DK_BLUE), (ws_mean_bedagg, DK_RED),
                  (ws_mean_primary, DK_GREEN), (ws_mean_all, 'k')]:
    axC.plot(esd_bins[:len(vals)], vals, ls='none', marker=diamond, color=col, ms=18, mew=0)
axC.text(105, 5.32, fit_labels[0], color=DK_GREEN, fontsize=18, rotation=62, ha='center', va='center')
axC.text(241, 4.95, fit_labels[1], color=DK_RED, fontsize=18, rotation=57, ha='center', va='center')
axC.text(552, 4.49, fit_labels[2], color=DK_BLUE, fontsize=18, rotation=57, ha='center', va='center')
axC.text(1062, 3.80, fit_labels[3], color='k', fontsize=18, rotation=43, ha='center', va='center')
axC.set_ylim(-0.1, 6.25)
axC.set_yticks(range(0, 7))
axC.tick_params(axis='y', direction='out', left=True, right=True, length=9, pad=5)

# D
style(axD)
log_x(axD)
axD.scatter(unz(floc_particles, 0), unz(floc_particles, 2), s=dot, color='#0000ff', lw=0)
axD.scatter(unz(bedagg_particles, 0), unz(bedagg_particles, 2), s=dot, color='#ff0000', lw=0)
axD.scatter(unz(primary_particles, 0), unz(primary_particles, 2), s=dot, color='#00ee00', lw=0)
axD.plot(esd_bins[:len(rho_mean_all)], rho_mean_all, color='k', lw=2.6)
axD.set_ylim(1000, 3000)
axD.set_yticks(range(1000, 3001, 200))
axD.tick_params(axis='y', direction='out', left=True, right=True, length=9, pad=5)

# E
style(axE)
e_dash = (0, (3.5, 2.5))
axE.plot(E_fr_all, E_ws_all, color='k', lw=2.2, ls=e_dash)
axE.plot(E_fr_floc, E_ws_floc, color='#0000ff', lw=2.2, ls=e_dash)
axE.plot(E_fr_bedagg, E_ws_bedagg, color='#ff0000', lw=2.2, ls=e_dash)
axE.plot(E_fr_primary, E_ws_primary, color=GREEN_L, lw=2.2, ls=e_dash)
axE.set_xlim(0, 1)
axE.set_ylim(-0.1, 6.25)
axE.set_xticks([])
axE.set_yticks(range(0, 7))
axE.tick_params(axis='y', direction='in', left=True, right=True, length=5, labelleft=False)

# F
style(axF)
for lim in class_limits:
    axF.axhline(lim, color='#808080', lw=1.6, ls=(0, (3, 2.5)))
axF.plot(F_fr_solid, F_rho_solid, color='k', lw=2.2)
axF.plot(F_fr_dash, F_rho_dash, color='k', lw=2.6, ls=dash)
axF.set_xlim(0, 1)
axF.set_ylim(1000, 3000)
axF.set_xticks([])
axF.set_yticks(range(1000, 3001, 200))
axF.tick_params(axis='y', direction='in', left=True, right=True, length=5, labelleft=False)

# axis labels
lab = dict(fontsize=18, color='k', rotation=90, ha='center', va='center')
fig.text(fx(137), fy(209.5), 'fraction', **lab)
fig.text(fx(137), fy(647), 'mass fraction', **lab)
fig.text(fx(112), fy(1130), r'W$_\mathrm{s}$ [mm s$^\mathrm{-1}$]', **lab)
fig.text(fx(80), fy(1673), r'particle density [kg . m$^\mathrm{-3}$]', **lab)
fig.text(fx(708), fy(1971), r'esd [$\mu$m]', fontsize=18, ha='center', va='center')

for name, x, y in [('A)', 192, 46), ('B)', 196, 493), ('C)', 197, 917),
                   ('D)', 209, 1466), ('E)', 1569, 928), ('F)', 1566, 1472)]:
    fig.text(fx(x), fy(y), name, fontsize=17, fontweight='bold', ha='left',
             va='baseline', zorder=10)

# info box
fig.add_artist(Rectangle((fx(1292), fy(648)), 375 / W, 625 / H, transform=fig.transFigure,
                         fill=False, lw=1.8, ec='k'))
line_centres = [41.2, 68.1, 93.3, 119.4, 145.4, 172.3, 209.6, 253.9, 299.5, 335.5,
                361.5, 387.6, 413.2, 439.2]
for txt, yc in zip(info_lines, line_centres):
    fig.text(fx(1304), fy(yc + 9), txt, fontsize=18, ha='left', va='baseline')

fig.savefig('out.png', dpi=100, facecolor='white')
